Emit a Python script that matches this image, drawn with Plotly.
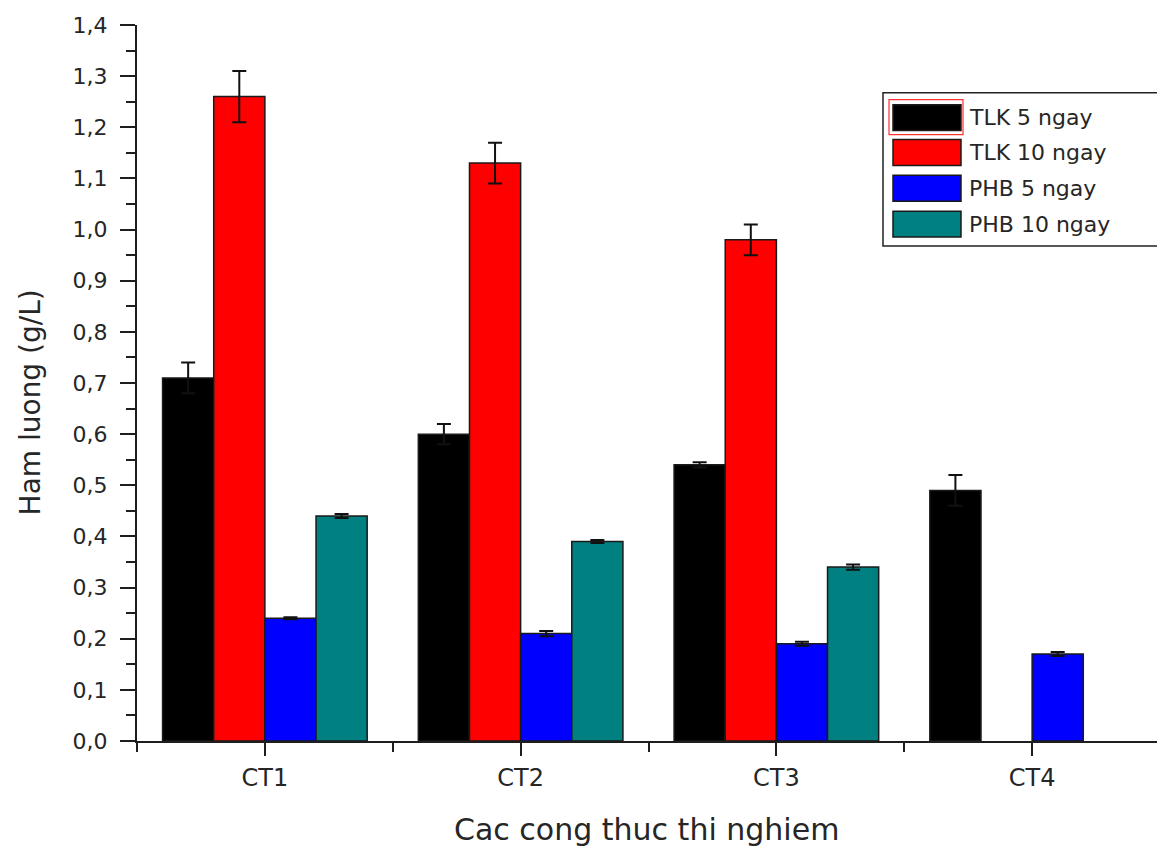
import plotly.graph_objects as go

# ---------------- data ----------------
categories = ["CT1", "CT2", "CT3", "CT4"]
series_names = ["TLK 5 ngay", "TLK 10 ngay", "PHB 5 ngay", "PHB 10 ngay"]
tlk_5 = [0.71, 0.60, 0.54, 0.49]
tlk_10 = [1.26, 1.13, 0.98, None]
phb_5 = [0.24, 0.21, 0.19, 0.17]
phb_10 = [0.44, 0.39, 0.34, None]
tlk_5_err = [0.03, 0.02, 0.005, 0.03]
tlk_10_err = [0.05, 0.04, 0.03, None]
phb_5_err = [0.002, 0.005, 0.004, 0.004]
phb_10_err = [0.004, 0.003, 0.005, None]
y_tick_values = [0.0, 0.1, 0.2, 0.3, 0.4, 0.5, 0.6, 0.7, 0.8, 0.9, 1.0, 1.1, 1.2, 1.3, 1.4]
x_title = "Cac cong thuc thi nghiem"
y_title = "Ham luong (g/L)"

colors = ["#000000", "#FF0000", "#0000FF", "#008080"]
values = [tlk_5, tlk_10, phb_5, phb_10]
errors = [tlk_5_err, tlk_10_err, phb_5_err, phb_10_err]

positions = list(range(len(categories)))
FONT = "DejaVu Sans, Verdana, sans-serif"
TXT = "#262626"
AX = "#1e1e1e"

fig = go.Figure()
for name, vals, errs, col in zip(series_names, values, errors, colors):
    fig.add_trace(go.Bar(
        x=positions, y=vals, name=name,
        marker=dict(color=col, line=dict(color="#1a1a1a", width=1.5)),
        error_y=dict(type="data", array=errs, visible=True,
                     color="#111111", thickness=2, width=7),
        showlegend=False,
    ))

# page offset (body margin) and figure geometry, in screen pixels
OFF = 8
W, H = 1157, 840
L, R, T, B = 129, 5, 14, 107
pw, ph = W - L - R, H - T - B

def px(xs):
    return (xs - OFF - L) / pw

def py(ys):
    return (H - B - (ys - OFF)) / ph

shapes = []
annotations = []
# custom legend box
shapes.append(dict(type="rect", xref="paper", yref="paper",
                   x0=px(883), x1=px(1160), y0=py(244), y1=py(90),
                   line=dict(color="#222222", width=1.5), fillcolor="white", layer="above"))
row_centers = [115, 150, 186, 222]
for i, (name, col, yc) in enumerate(zip(series_names, colors, row_centers)):
    shapes.append(dict(type="rect", xref="paper", yref="paper",
                       x0=px(893), x1=px(961), y0=py(yc + 13), y1=py(yc - 13),
                       line=dict(color="#1a1a1a", width=1.5), fillcolor=col, layer="above"))
    annotations.append(dict(xref="paper", yref="paper", x=px(967), y=py(yc),
                            xanchor="left", yanchor="middle", showarrow=False,
                            text=name, font=dict(family=FONT, size=22, color=TXT)))
# selection highlight around first swatch
shapes.append(dict(type="rect", xref="paper", yref="paper",
                   x0=px(889), x1=px(963), y0=py(132), y1=py(97),
                   line=dict(color="#FF3030", width=1.2), layer="above"))

# axis titles
annotations.append(dict(xref="paper", yref="paper", x=px(646), y=py(830),
                        xanchor="center", yanchor="middle", showarrow=False,
                        text=x_title, font=dict(family=FONT, size=30, color=TXT)))
annotations.append(dict(xref="paper", yref="paper", x=px(30), y=py(401),
                        xanchor="center", yanchor="middle", showarrow=False, textangle=-90,
                        text=y_title, font=dict(family=FONT, size=28, color=TXT)))

fig.update_layout(
    width=W, height=H,
    margin=dict(l=L, r=R, t=T, b=B, pad=0),
    paper_bgcolor="white", plot_bgcolor="white",
    barmode="group", bargap=0.2, bargroupgap=0,
    separators=", ",
    shapes=shapes, annotations=annotations,
    font=dict(family=FONT, color=TXT),
)
fig.update_xaxes(
    range=[-0.5, 3.5], tickmode="array", tickvals=positions, ticktext=categories,
    ticks="outside", ticklen=13, tickwidth=2, tickcolor=AX,
    showline=True, linewidth=2, linecolor=AX, showgrid=False, zeroline=False,
    tickfont=dict(family=FONT, size=24, color=TXT), ticklabelstandoff=1,
    minor=dict(tickmode="array", tickvals=[p - 0.5 for p in positions] + [positions[-1] + 0.5],
               ticks="outside", ticklen=9, tickwidth=2, tickcolor=AX, showgrid=False),
)
fig.update_yaxes(
    range=[0, 1.4], tickmode="array", tickvals=y_tick_values, tickformat=".1f",
    ticks="outside", ticklen=15, tickwidth=2, tickcolor=AX,
    showline=True, linewidth=2, linecolor=AX, showgrid=False, zeroline=False,
    tickfont=dict(family=FONT, size=22, color=TXT), ticklabelstandoff=8,
    minor=dict(dtick=0.05, tick0=0, ticks="outside", ticklen=9, tickwidth=2,
               tickcolor=AX, showgrid=False),
)

fig.write_html("out.html")
